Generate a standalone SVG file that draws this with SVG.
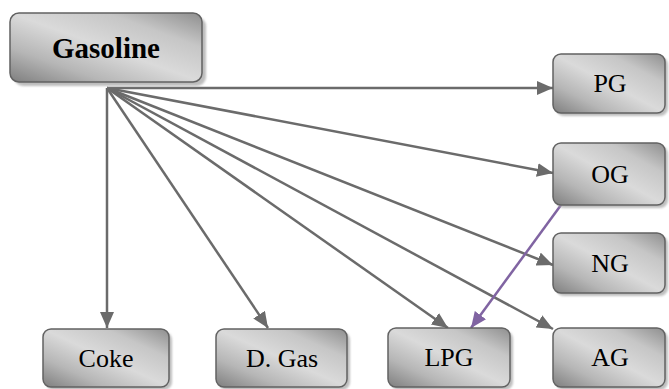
<svg xmlns="http://www.w3.org/2000/svg" width="669" height="389" viewBox="0 0 669 389">
  <defs>
    <linearGradient id="boxFill" x1="1" y1="0" x2="0" y2="1">
      <stop offset="0" stop-color="#8e8e8e"/>
      <stop offset="0.25" stop-color="#c6c6c6"/>
      <stop offset="0.5" stop-color="#dadada"/>
      <stop offset="0.75" stop-color="#b6b6b6"/>
      <stop offset="1" stop-color="#7e7e7e"/>
    </linearGradient>
    <filter id="soft" x="-10%" y="-10%" width="120%" height="130%">
      <feGaussianBlur stdDeviation="1"/>
    </filter>
    <marker id="arrowGrey" markerUnits="userSpaceOnUse" markerWidth="17" markerHeight="14" refX="16" refY="7" orient="auto">
      <path d="M0,0 L16,7 L0,14 Z" fill="#6b6b6b"/>
    </marker>
    <marker id="arrowPurple" markerUnits="userSpaceOnUse" markerWidth="17" markerHeight="14" refX="16" refY="7" orient="auto">
      <path d="M0,0 L16,7 L0,14 Z" fill="#8064a2"/>
    </marker>
  </defs>
  <style>
    .shadow { fill: #a8a8a8; opacity: 0.75; filter: url(#soft); }
    .box { fill: url(#boxFill); stroke: #626262; stroke-width: 1.5; }
    text { font-family: 'Liberation Serif', 'Times New Roman', serif; font-size: 26px; fill: #000; text-anchor: middle; }
    .title { font-size: 29px; font-weight: bold; }
    .edge { stroke: #6b6b6b; stroke-width: 2.5; fill: none; marker-end: url(#arrowGrey); }
    .edge-purple { stroke: #8064a2; stroke-width: 2.5; fill: none; marker-end: url(#arrowPurple); }
  </style>

  <!-- connectors -->
  <g id="connectors">
    <line class="edge" x1="107" y1="88" x2="107" y2="328"/>
    <line class="edge" x1="107" y1="88" x2="268" y2="328"/>
    <line class="edge" x1="107" y1="88" x2="448" y2="328"/>
    <line class="edge" x1="107" y1="88" x2="553" y2="329"/>
    <line class="edge" x1="107" y1="88" x2="553" y2="265"/>
    <line class="edge" x1="107" y1="88" x2="553" y2="173"/>
    <line class="edge" x1="107" y1="88" x2="553" y2="88"/>
    <line class="edge-purple" x1="561" y1="205" x2="471" y2="328"/>
  </g>

  <!-- nodes -->
  <g id="gasoline">
    <rect class="shadow" x="14" y="17" width="192" height="69" rx="9"/>
    <rect class="box" x="10" y="13" width="192" height="69" rx="9"/>
    <text class="title" x="106" y="58">Gasoline</text>
  </g>
  <g id="pg">
    <rect class="shadow" x="556" y="57" width="112" height="59" rx="8"/>
    <rect class="box" x="553" y="54" width="112" height="59" rx="8"/>
    <text x="610" y="92">PG</text>
  </g>
  <g id="og">
    <rect class="shadow" x="556" y="146" width="112" height="62" rx="8"/>
    <rect class="box" x="553" y="143" width="112" height="62" rx="8"/>
    <text x="610" y="183">OG</text>
  </g>
  <g id="ng">
    <rect class="shadow" x="556" y="236" width="112" height="60" rx="8"/>
    <rect class="box" x="553" y="233" width="112" height="60" rx="8"/>
    <text x="610" y="272">NG</text>
  </g>
  <g id="ag">
    <rect class="shadow" x="556" y="331" width="112" height="59" rx="8"/>
    <rect class="box" x="553" y="328" width="112" height="59" rx="8"/>
    <text x="610" y="366">AG</text>
  </g>
  <g id="lpg">
    <rect class="shadow" x="391" y="331" width="122" height="59" rx="8"/>
    <rect class="box" x="388" y="328" width="122" height="59" rx="8"/>
    <text x="449" y="366">LPG</text>
  </g>
  <g id="dgas">
    <rect class="shadow" x="219" y="332" width="131" height="58" rx="8"/>
    <rect class="box" x="216" y="329" width="131" height="58" rx="8"/>
    <text x="282" y="367">D. Gas</text>
  </g>
  <g id="coke">
    <rect class="shadow" x="46" y="332" width="126" height="58" rx="8"/>
    <rect class="box" x="43" y="329" width="126" height="58" rx="8"/>
    <text x="106" y="367">Coke</text>
  </g>
</svg>
